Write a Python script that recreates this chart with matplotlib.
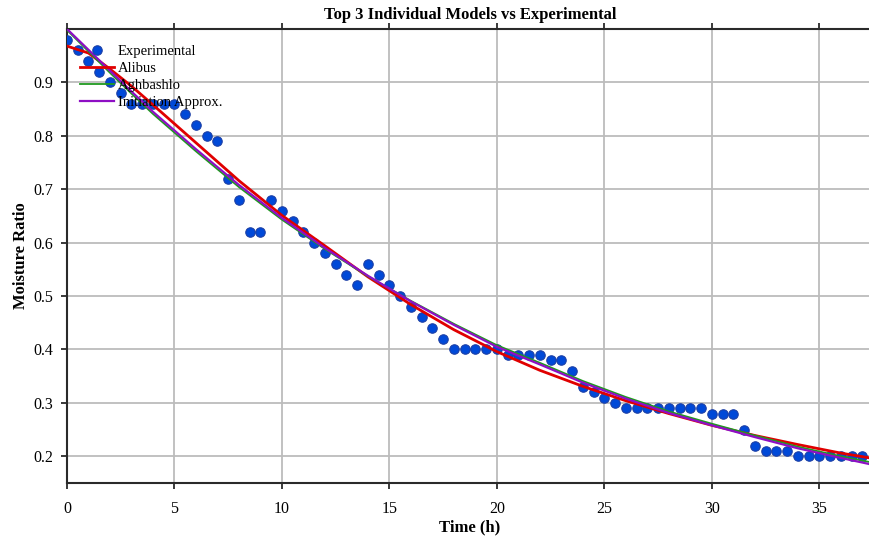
import numpy as np
import matplotlib
matplotlib.use("Agg")
import matplotlib.pyplot as plt

# ---- data ----
time_exp = np.arange(0, 37.01, 0.5)
mr_exp = [0.98, 0.96, 0.94, 0.92, 0.90, 0.88, 0.86, 0.86, 0.86, 0.86,
          0.86, 0.84, 0.82, 0.80, 0.79, 0.72, 0.68, 0.62, 0.62, 0.68,
          0.66, 0.64, 0.62, 0.60, 0.58, 0.56, 0.54, 0.52, 0.56, 0.54,
          0.52, 0.50, 0.48, 0.46, 0.44, 0.42, 0.40, 0.40, 0.40, 0.40,
          0.40, 0.39, 0.39, 0.39, 0.39, 0.38, 0.38, 0.36, 0.33, 0.32,
          0.31, 0.30, 0.29, 0.29, 0.29, 0.29, 0.29, 0.29, 0.29, 0.29,
          0.28, 0.28, 0.28, 0.25, 0.22, 0.21, 0.21, 0.21, 0.20, 0.20,
          0.20, 0.20, 0.20, 0.20, 0.20]

time_model = [0, 1, 2, 3, 4, 6, 8, 10, 12, 14, 16, 18, 20, 22, 24, 26, 28, 30, 32, 34, 36, 37.5]
mr_alibus = [0.968, 0.955, 0.925, 0.893, 0.858, 0.787, 0.716, 0.651, 0.594, 0.536, 0.484,
             0.437, 0.396, 0.361, 0.331, 0.304, 0.280, 0.258, 0.239, 0.222, 0.206, 0.196]
mr_aghbashlo = [0.998, 0.958, 0.918, 0.879, 0.841, 0.771, 0.704, 0.643, 0.588, 0.537, 0.491,
                0.448, 0.408, 0.375, 0.341, 0.311, 0.284, 0.261, 0.239, 0.218, 0.200, 0.188]
mr_initiation = [1.000, 0.961, 0.922, 0.883, 0.845, 0.775, 0.708, 0.646, 0.590, 0.538, 0.490,
                 0.446, 0.405, 0.372, 0.338, 0.308, 0.281, 0.258, 0.236, 0.215, 0.197, 0.184]

x_ticks = [0, 5, 10, 15, 20, 25, 30, 35]
y_ticks = [0.2, 0.3, 0.4, 0.5, 0.6, 0.7, 0.8, 0.9]

plt.rcParams['font.family'] = ['Liberation Serif', 'DejaVu Serif']

fig = plt.figure(figsize=(8.69, 5.39), dpi=100)
ax = fig.add_axes([67/869, 1 - 483/539, 806/869, 454/539])

ax.plot(time_exp, mr_exp, 'o', ms=6.8, mfc='#0049d8', mec='#1b3fa6', mew=0.8,
        label='Experimental', zorder=3)
ax.plot(time_model, mr_alibus, '-', color='#e00000', lw=2.0, label='Alibus', zorder=4)
ax.plot(time_model, mr_aghbashlo, '-', color='#1f9a1f', lw=1.3, label='Aghbashlo', zorder=4)
ax.plot(time_model, mr_initiation, '-', color='#8e0fc4', lw=1.6, label='Initiation Approx.', zorder=4)

ax.set_xlim(0, 37.5)
ax.set_ylim(0.15, 1.0)
ax.set_xticks(x_ticks)
ax.set_yticks(y_ticks)
ax.set_xticklabels([str(v) for v in x_ticks])
ax.set_yticklabels([f"{v:.1f}" for v in y_ticks])

ax.grid(True, color='#bcbcbc', lw=1.3, zorder=0)
ax.set_axisbelow(True)
for s in ax.spines.values():
    s.set_color('#2a2a2a')
    s.set_linewidth(1.5)
ax.tick_params(direction='out', length=4, width=1.3, color='#2a2a2a',
               labelsize=11.5, top=True, right=True)
ax.tick_params(axis='x', pad=9)
ax.tick_params(axis='y', pad=6)

ax.set_title('Top 3 Individual Models vs Experimental', fontsize=12, fontweight='bold', pad=7)
ax.set_xlabel('Time (h)', fontsize=12, fontweight='bold', labelpad=2)
ax.set_ylabel('Moisture Ratio', fontsize=12, fontweight='bold', labelpad=3)

leg = ax.legend(loc='upper left', bbox_to_anchor=(0.0, 0.994), frameon=False,
                fontsize=10.5, handlelength=2.3, handletextpad=0.3,
                labelspacing=0.26, borderaxespad=0.5)
leg.set_zorder(10)

fig.savefig('out.png', dpi=100)
